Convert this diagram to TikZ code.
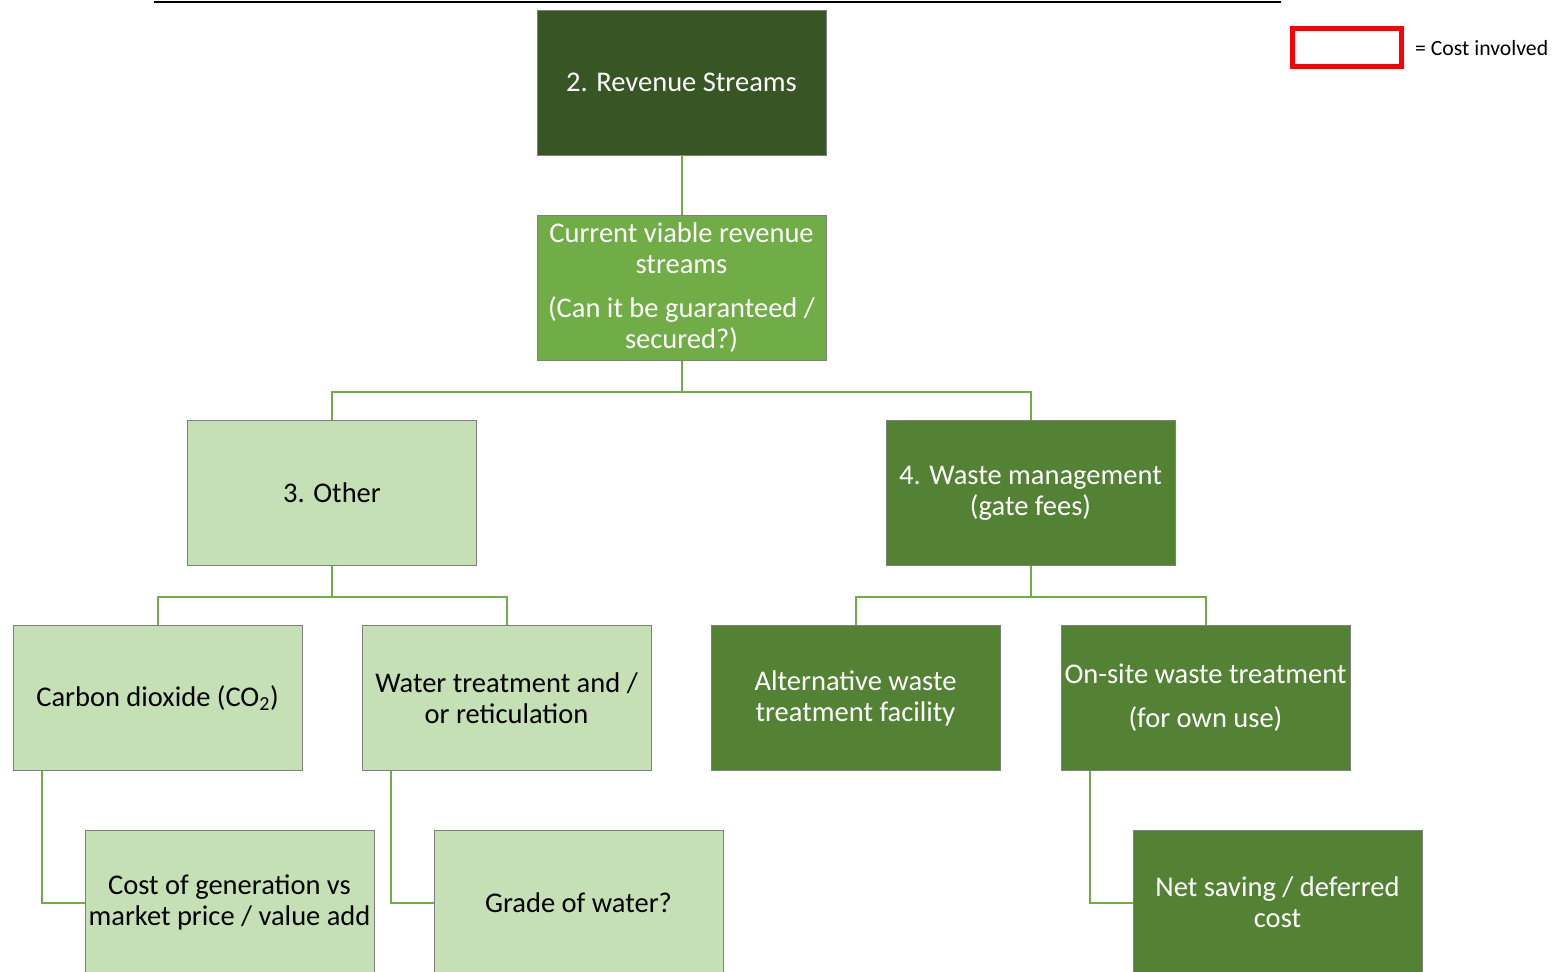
\documentclass[tikz,border=0pt]{standalone}
\usepackage{fontspec}
\setmainfont{Carlito}
\definecolor{greendark}{HTML}{375623}
\definecolor{greenmid}{HTML}{548235}
\definecolor{greenaccent}{HTML}{70AD47}
\definecolor{greenlight}{HTML}{C5E0B4}
\definecolor{boxedge}{HTML}{7F7F7F}
\tikzset{
  box/.style={rectangle, draw=boxedge, line width=0.9pt, minimum width=289pt,
    minimum height=145pt, inner sep=0pt, align=center,
    font=\fontsize{28.5}{31}\selectfont},
  darkbox/.style={box, fill=greendark, text=white},
  accentbox/.style={box, fill=greenaccent, text=white},
  midbox/.style={box, fill=greenmid, text=white},
  lightbox/.style={box, fill=greenlight, text=black},
  conn/.style={draw=greenaccent, line width=2pt},
}
\begin{document}
\begin{tikzpicture}[x=1pt, y=-1pt]
\useasboundingbox (0,0) rectangle (1556,972);
\clip (0,0) rectangle (1556,972);
\fill[white] (0,0) rectangle (1556,972);

% rule along the top edge
\draw[line width=2.5pt] (154,2) -- (1281,2);

% legend
\node[draw=red, line width=5pt, minimum width=109pt, minimum height=38pt, inner sep=0pt] (legbox) at (1347,47.5) {};
\node[anchor=west, inner sep=0pt, font=\fontsize{21.7}{25}\selectfont] (legtext) at (1415,48) {= Cost involved};

% boxes
\node[darkbox] (top) at (681.5,82.5) {2. Revenue Streams};
\node[accentbox] (cur) at (681.5,288) {Current viable revenue\\streams\\[13pt](Can it be guaranteed /\\secured?)};
\node[lightbox] (other) at (332,493) {3. Other};
\node[midbox] (waste) at (1030.5,493) {4. Waste management\\(gate fees)};
\node[lightbox] (co2) at (157.5,698) {Carbon dioxide (CO\textsubscript{2})};
\node[lightbox] (water) at (506.5,698) {Water treatment and /\\or reticulation};
\node[midbox] (alt) at (855.5,698) {Alternative waste\\treatment facility};
\node[midbox] (onsite) at (1205.5,698) {On-site waste treatment\\[13pt](for own use)};
\node[lightbox] (cost) at (229.5,902.5) {Cost of generation vs\\market price / value add};
\node[lightbox] (grade) at (578.5,902.5) {Grade of water?};
\node[midbox] (net) at (1277.5,902.5) {Net saving / deferred\\cost};

% connectors
\draw[conn] (top.south) -- (cur.north);
\draw[conn] (cur.south) -- ++(0,31) -| (other.north);
\draw[conn] (cur.south) -- ++(0,31) -| (waste.north);
\draw[conn] (other.south) -- ++(0,31) -| (co2.north);
\draw[conn] (other.south) -- ++(0,31) -| (water.north);
\draw[conn] (waste.south) -- ++(0,31) -| (alt.north);
\draw[conn] (waste.south) -- ++(0,31) -| (onsite.north);
\draw[conn] ([xshift=29pt]co2.south west) |- (cost.west);
\draw[conn] ([xshift=29pt]water.south west) |- (grade.west);
\draw[conn] ([xshift=29pt]onsite.south west) |- (net.west);
\end{tikzpicture}
\end{document}
